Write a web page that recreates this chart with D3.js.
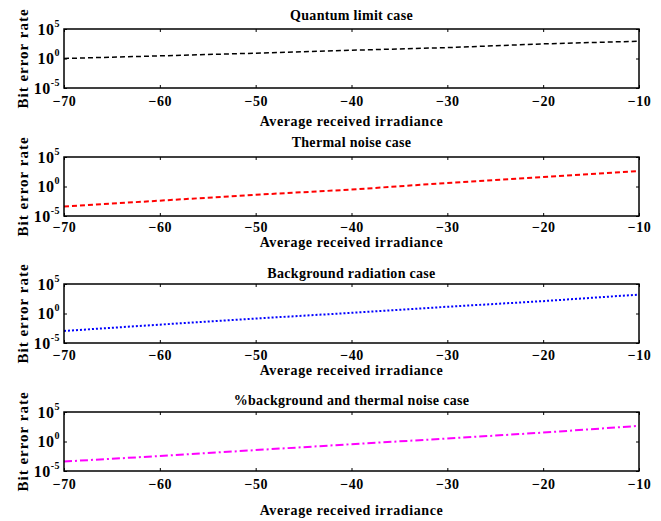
<!DOCTYPE html>
<html>
<head>
<meta charset="utf-8">
<script src="https://cdn.jsdelivr.net/npm/d3@7"></script>
<style>
  body { margin: 0; background: #fff; }
</style>
</head>
<body>
<svg id="chart" width="661" height="521"></svg>
<script>
// irradiance (x) and bit error rate per case
const irradiance = [-70, -60, -50, -40, -30, -20, -10];
const quantumBER = [1, 2.8, 8, 25, 70, 300, 850];
const thermalBER = [4e-4, 4e-3, 4e-2, 0.3, 4, 40, 420];
const backgroundBER = [1.1e-3, 1.3e-2, 0.14, 1.3, 14, 125, 1600];
const combinedBER = [4e-4, 3.5e-3, 3.5e-2, 0.35, 3.2, 32, 450];
const titles = ['Quantum limit case', 'Thermal noise case', 'Background radiation case', '%background and thermal noise case'];
const xTicks = [-70, -60, -50, -40, -30, -20, -10];
const yTicks = [1e-5, 1, 1e5];
const yTickExp = ['-5', '0', '5'];

const series = [quantumBER, thermalBER, backgroundBER, combinedBER];
const FONT = '"Liberation Serif", "Times New Roman", serif';

// layout / style per panel
const panels = [
  { top: 29, color: '#000', dash: '5,3', width: 1.5, titleDy: -14, tickDy: 13, labelDy: 33 },
  { top: 157, color: '#ff0000', dash: '5,3', width: 2, titleDy: -15, tickDy: 11, labelDy: 26 },
  { top: 284, color: '#0000ff', dash: '2,2', width: 2, titleDy: -11, tickDy: 12, labelDy: 27 },
  { top: 412, color: '#ff00ff', dash: '8,3,2,3', width: 2, titleDy: -12, tickDy: 13, labelDy: 39 }
];
const left = 64, right = 639, h = 59;

const svg = d3.select('#chart');
const x = d3.scaleLinear().domain([-70, -10]).range([left, right]);

function txt(sel, size, spacing) {
  return sel.attr('font-family', FONT).attr('font-weight', 'bold')
    .attr('font-size', size).attr('letter-spacing', spacing || 0).attr('fill', '#000');
}

panels.forEach((p, i) => {
  const y = d3.scaleLog().domain([1e-5, 1e5]).range([p.top + h, p.top]);
  const g = svg.append('g');

  // data line
  const line = d3.line().x(d => x(d[0])).y(d => y(d[1]));
  g.append('path')
    .datum(irradiance.map((v, k) => [v, series[i][k]]))
    .attr('d', line)
    .attr('fill', 'none')
    .attr('stroke', p.color)
    .attr('stroke-width', p.width)
    .attr('stroke-dasharray', p.dash);

  // inward ticks on all four sides
  const bottom = g.append('g').attr('transform', `translate(0,${p.top + h})`)
    .call(d3.axisBottom(x).tickValues(xTicks).tickSize(-3).tickFormat(d3.format('d')));
  g.append('g').attr('transform', `translate(0,${p.top})`)
    .call(d3.axisTop(x).tickValues(xTicks).tickSize(-3).tickFormat(''));
  const leftAx = g.append('g').attr('transform', `translate(${left},0)`)
    .call(d3.axisLeft(y).tickValues(yTicks).tickSize(-3).tickFormat(''));
  g.append('g').attr('transform', `translate(${right},0)`)
    .call(d3.axisRight(y).tickValues(yTicks).tickSize(-3).tickFormat(''));
  g.selectAll('.domain').remove();
  g.selectAll('.tick line').attr('stroke', '#000').attr('stroke-width', 1);

  txt(bottom.selectAll('text'), 14, 0.5)
    .attr('dy', '0.35em')
    .attr('y', p.tickDy);

  // y tick labels as 10^n
  leftAx.selectAll('.tick').each(function (d, k) {
    const t = txt(d3.select(this).append('text'), 16, 0.5)
      .attr('x', -4).attr('y', 5)
      .attr('text-anchor', 'end');
    t.append('tspan').text('10');
    t.append('tspan').attr('dy', -8).attr('font-size', 10).text(yTickExp[k]);
  });

  // frame
  g.append('rect')
    .attr('x', left).attr('y', p.top)
    .attr('width', right - left).attr('height', h)
    .attr('fill', 'none').attr('stroke', '#000').attr('stroke-width', 1.5);

  // title and axis labels
  txt(g.append('text'), 14, 0.3)
    .attr('x', (left + right) / 2).attr('y', p.top + p.titleDy)
    .attr('dy', '0.35em').attr('text-anchor', 'middle')
    .text(titles[i]);
  txt(g.append('text'), 14, 0.6)
    .attr('x', (left + right) / 2).attr('y', p.top + h + p.labelDy)
    .attr('dy', '0.35em').attr('text-anchor', 'middle')
    .text('Average received irradiance');
  txt(g.append('text'), 15, 1)
    .attr('transform', `translate(23,${p.top + h / 2}) rotate(-90)`)
    .attr('dy', '0.35em').attr('text-anchor', 'middle')
    .text('Bit error rate');
});
</script>
</body>
</html>
